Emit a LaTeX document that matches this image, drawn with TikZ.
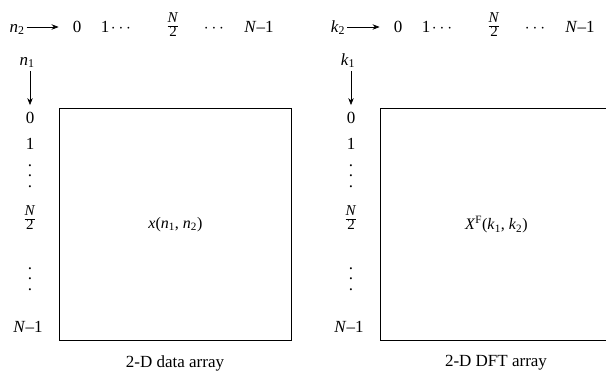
\documentclass[tikz,border=0pt]{standalone}
\usepackage{fontspec}
\setmainfont{Liberation Serif}
\usetikzlibrary{arrows.meta}
\newcommand{\iv}[2]{\textit{#1}\textsubscript{#2}}
\newcommand{\halfN}{{\fontsize{15}{15}\selectfont\renewcommand\arraystretch{0.78}\begin{tabular}{@{}c@{}}\textit{N}\\\hline 2\end{tabular}}}
\newcommand{\vd}{\vbox{\baselineskip=10.5pt\hbox{.}\hbox{.}\hbox{.}}}
\begin{document}
\begin{tikzpicture}[x=1pt,y=-1pt,
  lab/.style={inner sep=0pt, font=\fontsize{17}{20}\selectfont},
  mid/.style={inner sep=0pt, font=\fontsize{16}{19}\selectfont},
  arr/.style={-{Stealth[length=7pt,width=5.5pt]}, line width=0.7pt},
  box/.style={draw, line width=0.8pt}]
\useasboundingbox (0,0) rectangle (606,375);
% ---------- left panel ----------
\node[lab, anchor=base] (n2) at (17,32) {\iv{n}{2}};
\node[lab, anchor=base] (a0) at (77,32) {0};
\node[lab, anchor=base] (a1) at (105,32) {1};
\node[lab, anchor=base] (ad1) at (121,32) {$\cdots$};
\node[lab] (ah) at (173,26) {\halfN};
\node[lab, anchor=base] (ad2) at (214,32) {$\cdots$};
\node[lab, anchor=base] (aN) at (259,32) {\textit{N}–1};
\draw[arr] ([xshift=2pt,yshift=5pt]n2.base east) -- ([xshift=-14pt,yshift=5pt]a0.base west);
\node[lab, anchor=base] (n1) at (27,65) {\iv{n}{1}};
\node[lab] (r0) at (30,118) {0};
\node[lab] (r1) at (30,144) {1};
\node[lab] (rd1) at (30,176) {\vd};
\node[lab] (rh) at (30,219) {\halfN};
\node[lab] (rd2) at (30,279) {\vd};
\node[lab, anchor=base] (rN) at (28,332) {\textit{N}–1};
\draw[arr] ([yshift=-3pt]r0.north |- n1.south) -- ([yshift=7pt]r0.north);
\node[box, minimum width=232pt, minimum height=232pt, anchor=north west] (A) at (59,108) {};
\node[mid] (xa) at (A.center) {\textit{x}(\iv{n}{1}, \iv{n}{2})};
\node[lab] (ca) at (175,363) {2-D data array};
% ---------- right panel ----------
\begin{scope}[xshift=321pt]
\node[lab, anchor=base] (k2) at (17,32) {\iv{k}{2}};
\node[lab, anchor=base] (b0) at (77,32) {0};
\node[lab, anchor=base] (b1) at (105,32) {1};
\node[lab, anchor=base] (bd1) at (121,32) {$\cdots$};
\node[lab] (bh) at (173,26) {\halfN};
\node[lab, anchor=base] (bd2) at (214,32) {$\cdots$};
\node[lab, anchor=base] (bN) at (259,32) {\textit{N}–1};
\draw[arr] ([xshift=2pt,yshift=5pt]k2.base east) -- ([xshift=-14pt,yshift=5pt]b0.base west);
\node[lab, anchor=base] (k1) at (27,65) {\iv{k}{1}};
\node[lab] (s0) at (30,118) {0};
\node[lab] (s1) at (30,144) {1};
\node[lab] (sd1) at (30,176) {\vd};
\node[lab] (sh) at (30,219) {\halfN};
\node[lab] (sd2) at (30,279) {\vd};
\node[lab, anchor=base] (sN) at (28,332) {\textit{N}–1};
\draw[arr] ([yshift=-3pt]s0.north |- k1.south) -- ([yshift=7pt]s0.north);
\node[box, minimum width=232pt, minimum height=232pt, anchor=north west] (B) at (59,108) {};
\node[mid] (xb) at (B.center) {\textit{X}\textsuperscript{F}(\iv{k}{1}, \iv{k}{2})};
\node[lab] (cb) at (175,363) {2-D DFT array};
\end{scope}
\end{tikzpicture}
\end{document}
